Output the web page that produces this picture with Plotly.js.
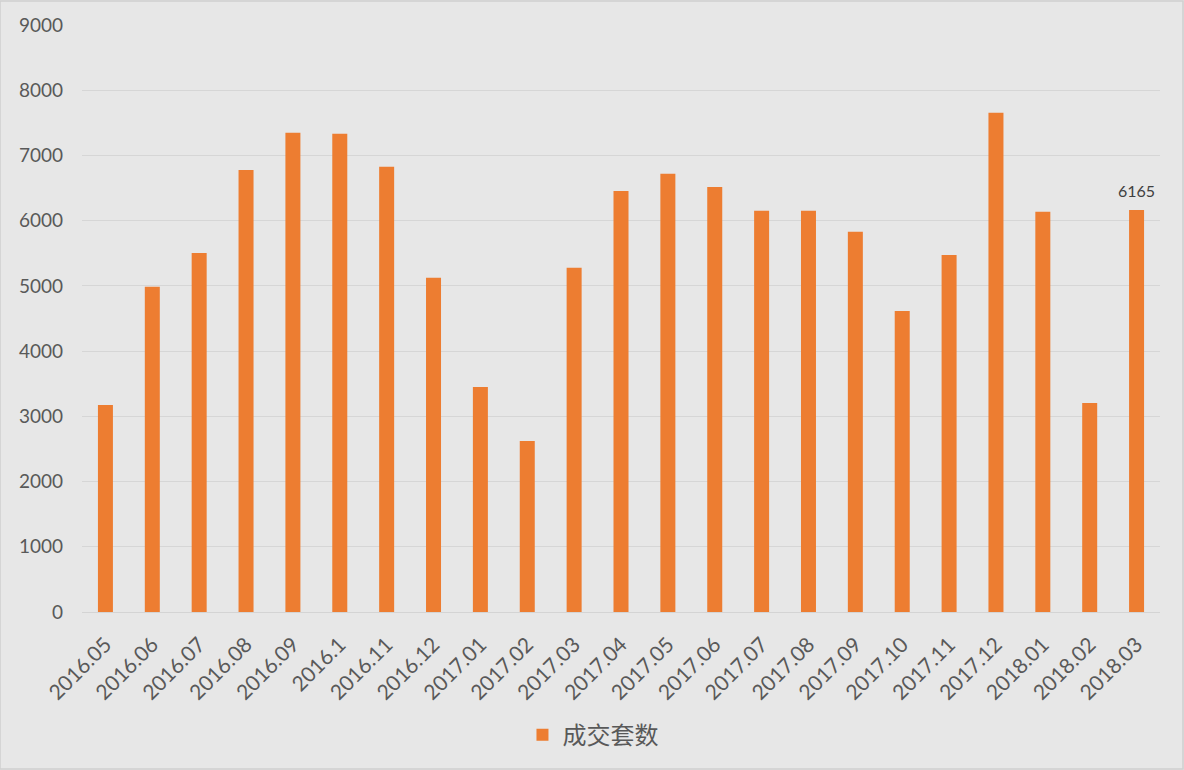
<!DOCTYPE html>
<html>
<head>
<meta charset="utf-8">
<script src="https://cdn.plot.ly/plotly-3.0.1.min.js"></script>
<style>html,body{margin:0;padding:0;background:#e7e7e7;}#chart{width:1184px;height:770px;}</style>
</head>
<body>
<div id="chart"></div>
<script>
const categories = ["2016.05","2016.06","2016.07","2016.08","2016.09","2016.1","2016.11","2016.12",
  "2017.01","2017.02","2017.03","2017.04","2017.05","2017.06","2017.07","2017.08","2017.09",
  "2017.10","2017.11","2017.12","2018.01","2018.02","2018.03"];
const seriesName = "成交套数";
const values = [3175, 4988, 5504, 6777, 7349, 7334, 6828, 5126, 3450, 2622, 5279, 6455, 6721,
  6517, 6153, 6153, 5831, 4615, 5474, 7656, 6138, 3204, 6165];
const yTicks = [0, 1000, 2000, 3000, 4000, 5000, 6000, 7000, 8000, 9000];

const last = values.length - 1;

const trace = {
  type: "bar",
  x: categories,
  y: values,
  name: seriesName,
  marker: {color: "#ed7d31"},
  width: 0.32,
  hoverinfo: "x+y"
};

const layout = {
  width: 1184, height: 770,
  paper_bgcolor: "#e7e7e7",
  plot_bgcolor: "#e7e7e7",
  margin: {l: 82, r: 24, t: 25, b: 158},
  font: {family: "Lato, 'Open Sans', sans-serif", color: "#595959"},
  xaxis: {
    type: "category",
    range: [-0.5, categories.length - 0.5],
    tickangle: -45,
    tickfont: {size: 21, color: "#595959"},
    showgrid: false,
    showline: true, linecolor: "#d4d4d4", linewidth: 1,
    ticks: "outside", ticklen: 11, tickcolor: "rgba(0,0,0,0)",
    fixedrange: true
  },
  yaxis: {
    range: [0, 9000],
    tickvals: yTicks,
    ticktext: yTicks.map(String),
    tickfont: {size: 19, color: "#595959"},
    gridcolor: "#d6d6d6", gridwidth: 1,
    zeroline: false,
    showline: false,
    ticks: "",
    ticklabelstandoff: 18,
    fixedrange: true
  },
  showlegend: true,
  legend: {
    orientation: "h",
    x: 0.474, xanchor: "center",
    y: -0.21, yanchor: "middle",
    font: {family: "'Noto Sans CJK SC', sans-serif", size: 24, color: "#595959"},
    bgcolor: "rgba(0,0,0,0)",
    itemwidth: 30
  },
  annotations: [{
    x: last, y: values[last], xref: "x", yref: "y",
    text: String(values[last]), showarrow: false,
    yanchor: "bottom", yshift: 8,
    font: {family: "Lato, 'Open Sans', sans-serif", size: 16, color: "#404040"}
  }],
  shapes: [{
    type: "rect", xref: "paper", yref: "paper",
    x0: -82/1078, x1: 1 + 23/1078, y0: -157/587, y1: 1 + 24/587,
    line: {color: "#d0d0d0", width: 1.5}, fillcolor: "rgba(0,0,0,0)"
  }]
};

Plotly.newPlot("chart", [trace], layout, {displayModeBar: false, staticPlot: true});
</script>
</body>
</html>
